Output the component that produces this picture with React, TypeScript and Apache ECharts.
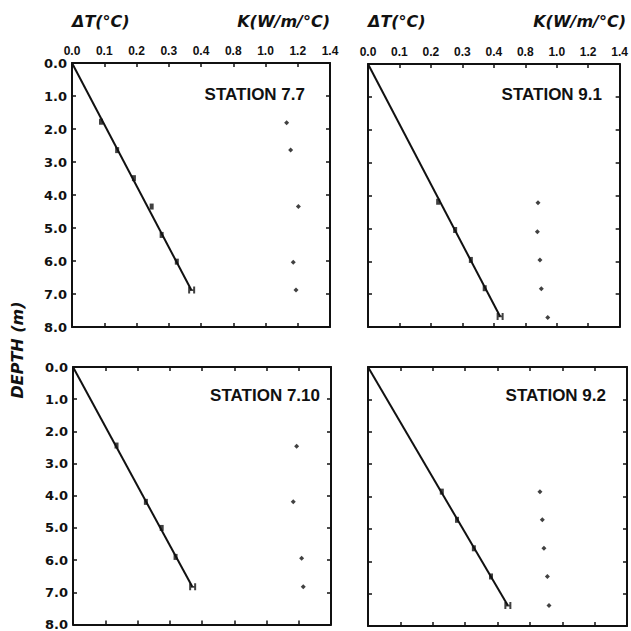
import React, { useEffect, useRef } from "react";
import * as echarts from "echarts";

// Station names
const stations = ["STATION 7.7", "STATION 9.1", "STATION 7.10", "STATION 9.2"];

// Temperature difference measurements (ΔT °C, depth m)
const dT77 = [[0.09, 1.78], [0.14, 2.64], [0.192, 3.49], [0.247, 4.35], [0.278, 5.21], [0.325, 6.02]];
const dT91 = [[0.223, 4.19], [0.277, 5.05], [0.327, 5.96], [0.371, 6.82]];
const dT710 = [[0.135, 2.44], [0.226, 4.19], [0.275, 5.0], [0.318, 5.9]];
const dT92 = [[0.228, 3.85], [0.275, 4.72], [0.327, 5.6], [0.38, 6.47]];

// Deepest measurement (with error bar)
const last77 = [[0.371, 6.88]];
const last91 = [[0.42, 7.68]];
const last710 = [[0.371, 6.83]];
const last92 = [[0.432, 7.37]];

// Fitted lines (ΔT, depth)
const fit77 = [[0, 0], [0.37, 6.88]];
const fit91 = [[0, 0], [0.42, 7.68]];
const fit710 = [[0, 0], [0.37, 6.83]];
const fit92 = [[0, 0], [0.432, 7.37]];

// Thermal conductivity K (W/m/°C, depth m)
const k77 = [[1.131, 1.81], [1.156, 2.64], [1.204, 4.35], [1.172, 6.04], [1.189, 6.88]];
const k91 = [[0.881, 4.22], [0.877, 5.1], [0.893, 5.96], [0.902, 6.84], [0.943, 7.71]];
const k710 = [[1.187, 2.46], [1.166, 4.19], [1.218, 5.94], [1.228, 6.83]];
const k92 = [[0.862, 3.85], [0.877, 4.72], [0.887, 5.6], [0.908, 6.47], [0.918, 7.37]];

const dTData = [dT77, dT91, dT710, dT92];
const lastData = [last77, last91, last710, last92];
const fitData = [fit77, fit91, fit710, fit92];
const kData = [k77, k91, k710, k92];

const grids = [
  { left: 72, top: 63, width: 258, height: 264 },
  { left: 368, top: 64, width: 258, height: 263 },
  { left: 73, top: 367, width: 258, height: 259 },
  { left: 368, top: 367, width: 259, height: 259 },
];

const LIB = "'Liberation Sans', Arial, sans-serif";
const DJV = "'DejaVu Sans', sans-serif";
const H_SYMBOL = "path://M0,0h2v3h3v-3h2v8h-2v-3h-3v3h-2z";

export default function App() {
  const ref = useRef<HTMLDivElement>(null);
  useEffect(() => {
    if (!ref.current) return;
    const chart = echarts.init(ref.current, null, { renderer: "svg" });
    const xAxis: any[] = [];
    const yAxis: any[] = [];
    const series: any[] = [];
    const tickStyle = { show: true, inside: true, length: 4, lineStyle: { color: "#111", width: 1.5 } };
    const lineStyle = { show: true, onZero: false, lineStyle: { color: "#111", width: 2 } };
    grids.forEach((g, i) => {
      const topRow = i < 2;
      const leftCol = i % 2 === 0;
      // ΔT axis (top)
      xAxis.push({
        type: "value", gridIndex: i, position: "top", min: 0, max: 0.8, interval: 0.1,
        axisLine: lineStyle, axisTick: tickStyle, splitLine: { show: false },
        axisLabel: {
          show: topRow, margin: 6, color: "#111", fontFamily: LIB, fontWeight: "bold", fontSize: 12,
          formatter: (v: number) => (v <= 0.41 ? v.toFixed(1) : ""),
        },
      });
      // K axis (top, labels only)
      xAxis.push({
        type: "value", gridIndex: i, position: "top", min: -0.2, max: 1.4, interval: 0.2,
        axisLine: { show: false, onZero: false }, axisTick: { show: false }, splitLine: { show: false },
        axisLabel: {
          show: topRow, margin: 6, color: "#111", fontFamily: LIB, fontWeight: "bold", fontSize: 12,
          formatter: (v: number) => (v >= 0.79 ? v.toFixed(1) : ""),
        },
      });
      // bottom axis (ticks only)
      xAxis.push({
        type: "value", gridIndex: i, position: "bottom", min: 0, max: 0.8, interval: 0.1,
        axisLine: lineStyle, axisTick: tickStyle, splitLine: { show: false }, axisLabel: { show: false },
      });
      yAxis.push({
        type: "value", gridIndex: i, position: "left", min: 0, max: 8, interval: 1, inverse: true,
        axisLine: lineStyle, axisTick: tickStyle, splitLine: { show: false },
        axisLabel: {
          show: leftCol, margin: 5, color: "#111", fontFamily: DJV, fontWeight: "bold", fontSize: 13,
          formatter: (v: number) => v.toFixed(1),
        },
      });
      yAxis.push({
        type: "value", gridIndex: i, position: "right", min: 0, max: 8, interval: 1, inverse: true,
        axisLine: lineStyle, axisTick: tickStyle, splitLine: { show: false }, axisLabel: { show: false },
      });
      const xi = i * 3;
      const yi = i * 2;
      series.push({
        type: "line", xAxisIndex: xi, yAxisIndex: yi, data: fitData[i], showSymbol: false,
        lineStyle: { color: "#111", width: 2 }, silent: true,
      });
      series.push({
        type: "scatter", xAxisIndex: xi, yAxisIndex: yi, data: dTData[i], symbol: "rect",
        symbolSize: [4, 6], itemStyle: { color: "#111" },
      });
      series.push({
        type: "scatter", xAxisIndex: xi, yAxisIndex: yi, data: lastData[i], symbol: H_SYMBOL,
        symbolSize: [7, 7], itemStyle: { color: "#111" },
      });
      series.push({
        type: "scatter", xAxisIndex: xi + 1, yAxisIndex: yi, data: kData[i], symbol: "diamond",
        symbolSize: 5, itemStyle: { color: "#111" },
      });
    });

    const stationPos = [
      { x: 305, y: 94 },
      { x: 602, y: 94 },
      { x: 320, y: 395 },
      { x: 606, y: 395 },
    ];
    const graphic: any[] = [];
    stations.forEach((s, i) => {
      graphic.push({
        type: "text", x: stationPos[i].x, y: stationPos[i].y,
        style: { text: s, align: "right", verticalAlign: "middle", font: `bold 17px ${LIB}`, fill: "#111" },
      });
    });
    [0, 1].forEach((i) => {
      const g = grids[i];
      graphic.push({
        type: "text", x: g.left, y: 21,
        style: { text: "ΔT(°C)", align: "left", verticalAlign: "middle", font: `italic bold 16px ${DJV}`, fill: "#111" },
      });
      graphic.push({
        type: "text", x: g.left + g.width, y: 21,
        style: { text: "K(W/m/°C)", align: "right", verticalAlign: "middle", font: `italic bold 16px ${DJV}`, fill: "#111" },
      });
    });
    graphic.push({
      type: "text", x: 17, y: 350, rotation: Math.PI / 2,
      style: { text: "DEPTH (m)", align: "center", verticalAlign: "middle", font: `italic bold 16px ${DJV}`, fill: "#111" },
    });

    chart.setOption({
      animation: false,
      backgroundColor: "#fff",
      grid: grids.map((g) => ({ ...g, containLabel: false })),
      xAxis,
      yAxis,
      series,
      graphic,
    });
    return () => chart.dispose();
  }, []);
  return <div ref={ref} style={{ position: "fixed", left: 0, top: 0, width: 631, height: 631 }} />;
}
